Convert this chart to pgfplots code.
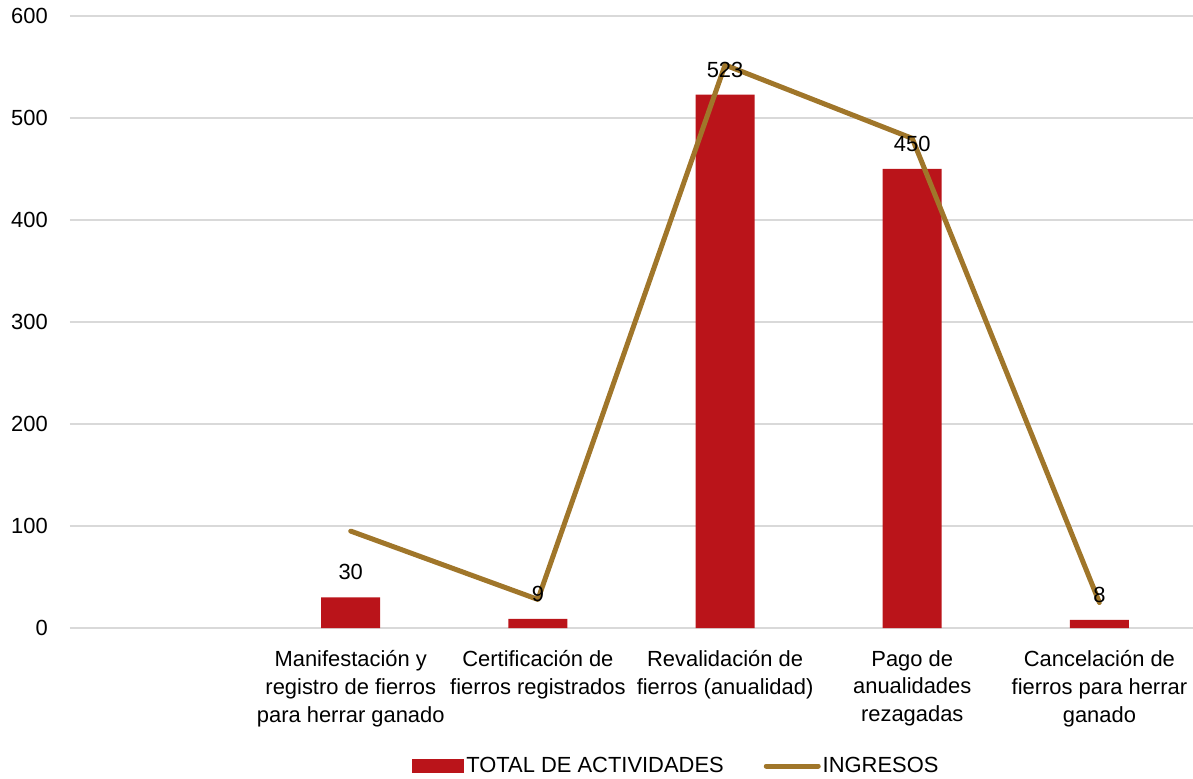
\documentclass[border=0pt]{standalone}
\usepackage{fontspec}
\setmainfont{Liberation Sans}
\usepackage{pgfplots}
\pgfplotsset{compat=1.18}
\definecolor{barred}{HTML}{BA141A}
\definecolor{lineg}{HTML}{A0762A}
\definecolor{gridg}{HTML}{D9D9D9}
\begin{document}
\begin{tikzpicture}
\begin{axis}[
  at={(0,0)}, anchor=south west,
  scale only axis, width=1123bp, height=612bp,
  xmin=-0.5, xmax=5.5, ymin=0, ymax=600,
  xtick={0,1,2,3,4,5},
  xticklabels={{},{Manifestación y\\registro de fierros\\para herrar ganado},{Certificación de\\fierros registrados},{Revalidación de\\fierros (anualidad)},{Pago de\\anualidades\\rezagadas},{Cancelación de\\fierros para herrar\\ganado}},
  ytick={0,100,...,600},
  ymajorgrids, grid style={gridg, line width=1.5bp},
  axis line style={draw=none},
  major tick length=0pt, tick style={draw=none},
  /pgf/number format/assume math mode=true,
  yticklabel style={font=\fontsize{22}{26}\selectfont, anchor=east, inner sep=0pt, xshift=-22bp},
  xticklabel style={font=\fontsize{22}{28}\selectfont, align=center, anchor=north, inner sep=0pt, yshift=-22bp},
  clip=false,
  legend style={at={(0.540,-0.2255)}, anchor=center, legend columns=2, draw=none, fill=none,
    font=\fontsize{22}{26}\selectfont,
    /tikz/every even column/.append style={column sep=38bp}},
]
\addplot[ybar, bar width=59bp, fill=barred, draw=none,
  nodes near coords, every node near coord/.append style={font=\fontsize{22}{26}\selectfont, text=black, anchor=south, inner sep=0pt, yshift=17bp},
  legend image code/.code={\fill[barred] (0bp,-7bp) rectangle (52bp,7bp);}]
  coordinates {(1,30) (2,9) (3,523) (4,450) (5,8)};
\addlegendentry{TOTAL DE ACTIVIDADES}
\addplot[lineg, line width=5bp, line cap=round, line join=round, mark=none,
  legend image code/.code={\draw[lineg, line width=5bp, line cap=round] (0bp,0bp) -- (52bp,0bp);}]
  coordinates {(1,95) (2,28) (3,552) (4,480) (5,25)};
\addlegendentry{INGRESOS}
\end{axis}
\pgfresetboundingbox
\path[use as bounding box] (-70bp,-151bp) rectangle (1123bp,628bp);
\end{tikzpicture}
\end{document}
